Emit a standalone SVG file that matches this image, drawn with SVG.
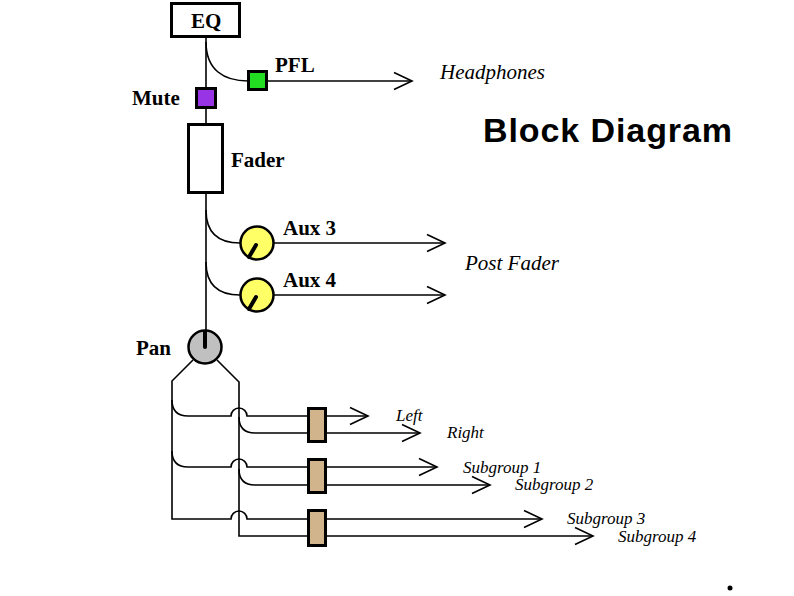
<svg xmlns="http://www.w3.org/2000/svg" width="794" height="596" viewBox="0 0 794 596">
<style>
.w{fill:none;stroke:#000;stroke-width:1.6}
.box{stroke:#000;stroke-width:3}
.b{font-family:"Liberation Serif",serif;font-weight:bold;font-size:21px;fill:#000}
.i{font-family:"Liberation Serif",serif;font-style:italic;font-size:17px;fill:#000}
.big{font-size:21px}
.ind{stroke:#000;stroke-width:4;stroke-linecap:round}
</style>
<defs>
<marker id="ah" markerUnits="userSpaceOnUse" markerWidth="24" markerHeight="24" viewBox="-20 -12 24 24" refX="0" refY="0" orient="auto">
<path d="M-18,-8.5 L0,0 L-18,8.5" fill="none" stroke="#000" stroke-width="1.6"/>
</marker>
</defs>
<rect width="794" height="596" fill="#fff"/>
<g id="connectors">
<path class="w" d="M206,37 V331"/>
<path class="w" d="M206,42 C206,70 224,81 248,81"/>
<path class="w" d="M267,81 H412" marker-end="url(#ah)"/>
<path class="w" d="M206,210 C206,234 220,243 240,243"/>
<path class="w" d="M274,243 H445" marker-end="url(#ah)"/>
<path class="w" d="M206,262 C206,286 220,295 240,295"/>
<path class="w" d="M274,295 H445" marker-end="url(#ah)"/>
<path class="w" d="M193,360 L172,381 V519 H231 A8,8 0 0 1 247,519 H542" marker-end="url(#ah)"/>
<path class="w" d="M217,360 L239,382 V536 H593" marker-end="url(#ah)"/>
<path class="w" d="M172,400 Q172,416 188,416 H231 A8,8 0 0 1 247,416 H368" marker-end="url(#ah)"/>
<path class="w" d="M239,417 Q239,433 255,433 H420" marker-end="url(#ah)"/>
<path class="w" d="M172,451 Q172,467 188,467 H231 A8,8 0 0 1 247,467 H437" marker-end="url(#ah)"/>
<path class="w" d="M239,469 Q239,485 255,485 H490" marker-end="url(#ah)"/>
</g>
<g id="eq"><rect class="box" x="171.5" y="3.5" width="68" height="33" fill="#fff"/><text class="b" x="191" y="28">EQ</text></g>
<g id="pfl"><rect class="box" x="248.5" y="71.5" width="18" height="18" fill="#22dd22" stroke-width="2.5"/><text class="b" x="275" y="72">PFL</text></g>
<g id="headphones"><text class="i big" x="440" y="79">Headphones</text></g>
<g id="mute"><rect class="box" x="196.5" y="88.5" width="19" height="19" fill="#9933e6" stroke-width="2.5"/><text class="b" x="132" y="105">Mute</text></g>
<g id="fader"><rect class="box" x="188.5" y="124.5" width="34" height="68" fill="#fff"/><text class="b" x="231" y="167">Fader</text></g>
<g id="title"><text x="483" y="142" font-family="'Liberation Sans',Arial,sans-serif" font-weight="bold" font-size="34" textLength="249">Block Diagram</text></g>
<g id="aux3"><circle cx="257" cy="243" r="16.5" fill="#ffff66" stroke="#000" stroke-width="2.5"/><line class="ind" x1="256" y1="245" x2="249" y2="257"/><text class="b" x="283" y="235">Aux 3</text></g>
<g id="aux4"><circle cx="257" cy="295" r="16.5" fill="#ffff66" stroke="#000" stroke-width="2.5"/><line class="ind" x1="256" y1="297" x2="249" y2="309"/><text class="b" x="283" y="287">Aux 4</text></g>
<g id="postfader"><text class="i big" x="465" y="270">Post Fader</text></g>
<g id="pan"><circle cx="205" cy="347" r="16.5" fill="#c0c0c0" stroke="#000" stroke-width="2.5"/><line class="ind" x1="205" y1="347" x2="205" y2="332"/><text class="b" x="136" y="355">Pan</text></g>
<g id="fader1"><rect class="box" x="308.5" y="408.5" width="17" height="33" fill="#d2b48c"/></g>
<g id="fader2"><rect class="box" x="308.5" y="459.5" width="17" height="33" fill="#d2b48c"/></g>
<g id="fader3"><rect class="box" x="308.5" y="510.5" width="17" height="35" fill="#d2b48c"/></g>
<g id="outputs">
<text class="i" x="396" y="421">Left</text>
<text class="i" x="447" y="438">Right</text>
<text class="i" x="463" y="473">Subgroup 1</text>
<text class="i" x="515" y="490">Subgroup 2</text>
<text class="i" x="567" y="524">Subgroup 3</text>
<text class="i" x="618" y="542">Subgroup 4</text>
</g>
<circle cx="730" cy="588" r="2.5" fill="#000"/>
</svg>
